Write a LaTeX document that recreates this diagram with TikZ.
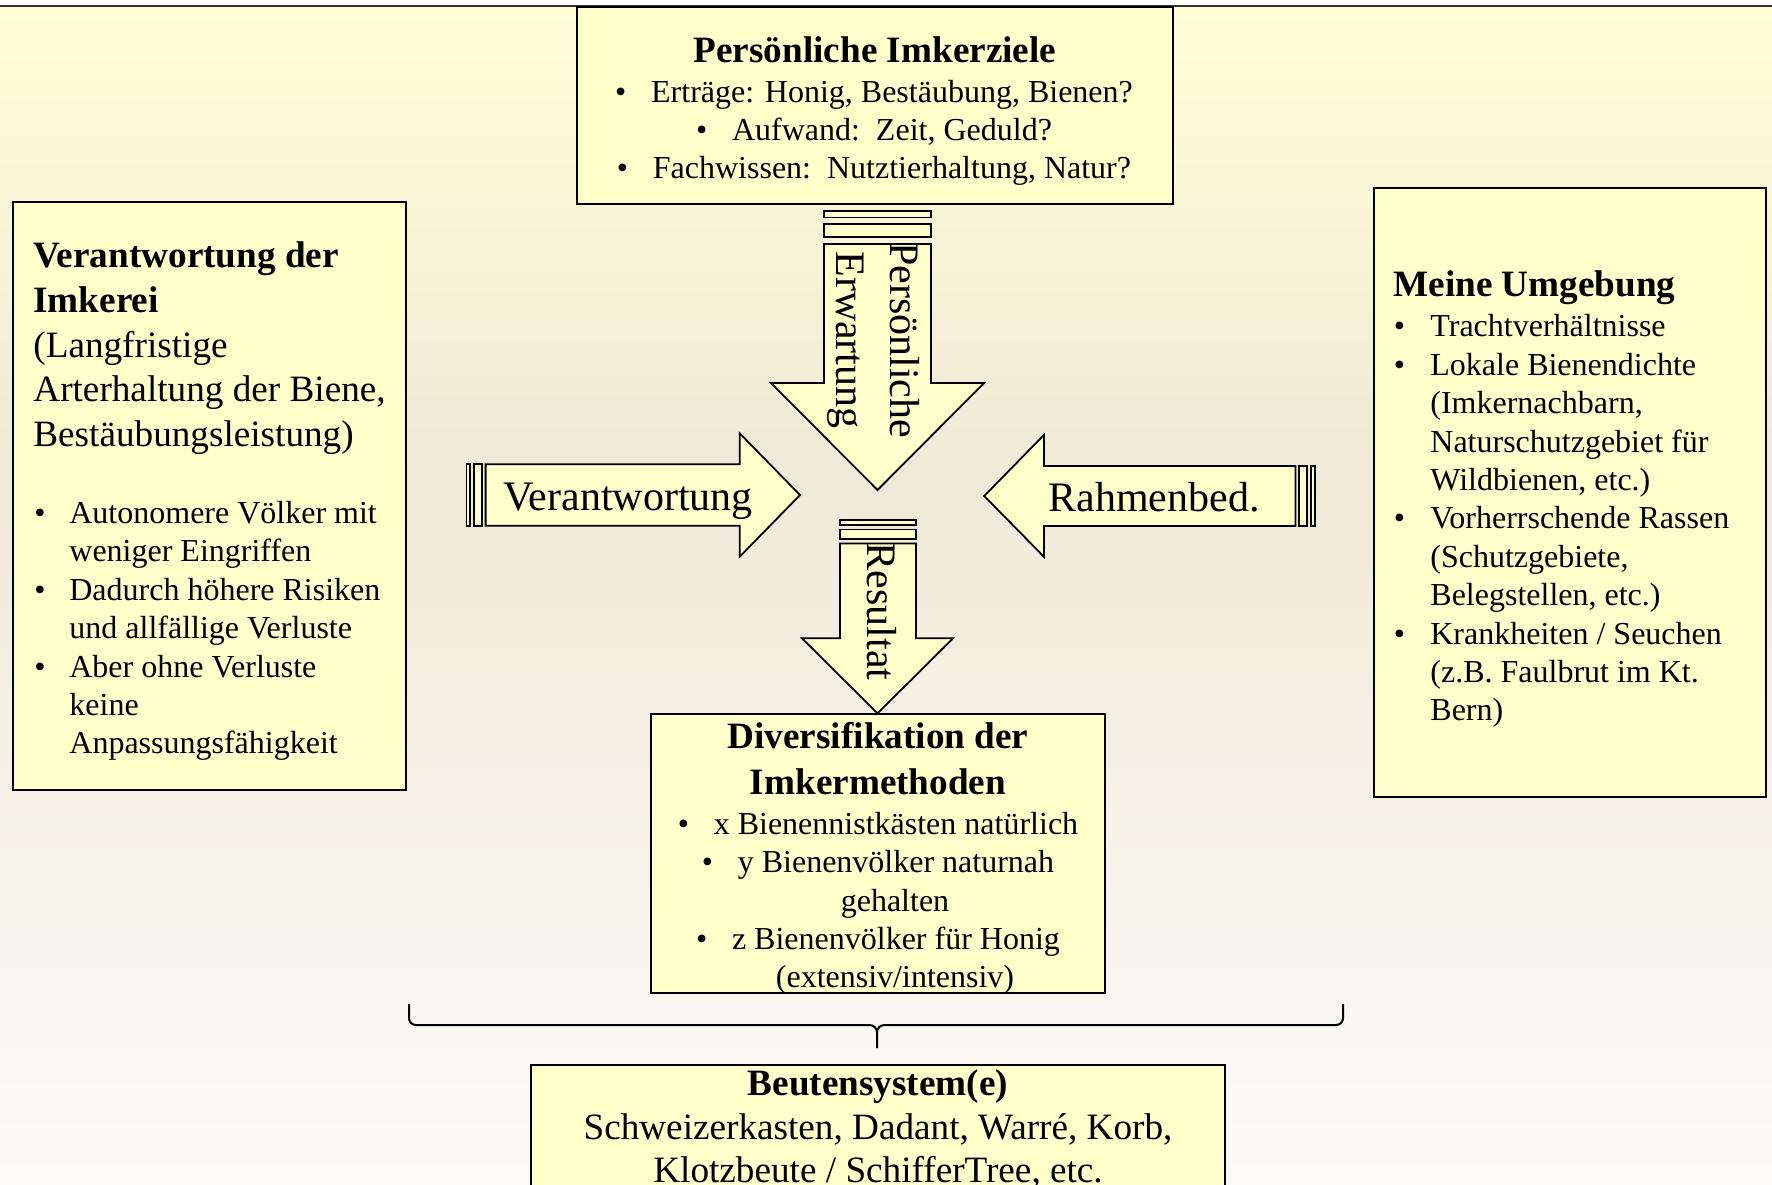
\documentclass[tikz,border=0pt]{standalone}
\usepackage{fontspec}
\setmainfont{Liberation Serif}
\definecolor{boxfill}{HTML}{FFFFCC}
\definecolor{bgtop}{HTML}{FFFFD6}
\definecolor{bgmid}{HTML}{EFE9D7}
\definecolor{bgbot}{HTML}{FCFBF9}
\newcommand\bulw[1]{\llap{\makebox[#1][l]{\textbullet}}}
\newcommand\bulc{\makebox[18pt][l]{\textbullet}}
\begin{document}
\begin{tikzpicture}[x=0.5pt,y=-0.5pt,
  box/.style={draw=black, line width=1pt, fill=boxfill, inner sep=0, outer sep=0},
  arr/.style={draw=black, line width=0.9pt, fill=boxfill, line join=miter},
  body/.style={inner sep=0, font=\fontsize{16}{19.2}\selectfont},
  bodyL/.style={body, anchor=base west},
  bodyC/.style={body, anchor=base},
  head/.style={inner sep=0, font=\fontsize{18.6}{22.3}\selectfont\bfseries},
  big/.style={inner sep=0, font=\fontsize{18.6}{22.3}\selectfont},
  lab/.style={inner sep=0, font=\fontsize{21}{25}\selectfont},
  brace/.style={draw=black, line width=1pt},
]
\useasboundingbox (0,0) rectangle (1772,1184);
\clip (0,0) rectangle (1772,1184);
\fill[white] (0,0) rectangle (1772,1184);
\shade[top color=bgtop, bottom color=bgmid] (0,6) rectangle (1772,470);
\shade[top color=bgmid, bottom color=bgbot] (0,470) rectangle (1772,1184);
\draw[line width=1pt, black!80] (0,6) -- (1772,6);

% boxes
\node[box, minimum width=298pt, minimum height=98.5pt] (ziele) at (875,105.5) {};
\node[box, minimum width=196.75pt, minimum height=294pt] (verant) at (209.25,496) {};
\node[box, minimum width=196pt, minimum height=304.7pt] (umgeb) at (1570,492.3) {};
\node[box, minimum width=227pt, minimum height=139.5pt] (divers) at (878,853.5) {};
\node[box, minimum width=347pt, minimum height=92.5pt] (beuten) at (878,1157.5) {};

% top arrow (down)
\draw[arr] (824,244) -- (931,244) -- (931,383) -- (984,383) -- (877.5,490) -- (771,383) -- (824,383) -- cycle;
\draw[arr] (824,210.7) rectangle (931,217.4);
\draw[arr] (824,224) rectangle (931,237.3);
% bottom arrow (down)
\draw[arr] (840,543.5) -- (916,543.5) -- (916,638.3) -- (953,638.3) -- (877.5,713.3) -- (802,638.3) -- (840,638.3) -- cycle;
\draw[arr] (840,520) rectangle (916,524.7);
\draw[arr] (840,529.4) rectangle (916,538.8);
% left arrow (pointing right)
\draw[arr] (485.6,464.3) -- (739.7,464.3) -- (739.7,433.3) -- (800,495) -- (739.7,556.7) -- (739.7,525.7) -- (485.6,525.7) -- cycle;
\draw[arr] (466.4,464.3) rectangle (470.25,525.7);
\draw[arr] (474.1,464.3) rectangle (481.8,525.7);
% right arrow (pointing left)
\draw[arr] (1295.4,466) -- (1043.9,466) -- (1043.9,435) -- (984.2,496) -- (1043.9,556.7) -- (1043.9,526) -- (1295.4,526) -- cycle;
\draw[arr] (1299.2,466) rectangle (1306.9,526);
\draw[arr] (1310.8,466) rectangle (1314.6,526);

% arrow labels
\node[lab, anchor=base] (lverant) at (628,510) {Verantwortung};
\node[lab, anchor=base] (lrahmen) at (1154,511.7) {Rahmenbed.};
\node[lab, anchor=base, rotate=-90] (lpers) at (890,340) {Persönliche};
\node[lab, anchor=base, rotate=-90] (lerw) at (836,340) {Erwartung};
\node[lab, anchor=base, rotate=-90] (lres) at (867,611.5) {Resultat};

% top box text
\node[head, anchor=base] (t0) at (875,62) {Persönliche Imkerziele};
\node[bodyC] (t1) at (874,102) {\bulc Erträge: Honig, Bestäubung, Bienen?};
\node[bodyC] (t2) at (874,140.5) {\bulc Aufwand:\ \ Zeit, Geduld?};
\node[bodyC] (t3) at (874,178.5) {\bulc Fachwissen:\ \ Nutztierhaltung, Natur?};

% left box text
\node[head, anchor=base west] (v0) at (33,267) {Verantwortung der};
\node[head, anchor=base west] (v1) at (33,312) {Imkerei};
\node[big, anchor=base west] (v2) at (33,357) {(Langfristige};
\node[big, anchor=base west] (v3) at (33,401.5) {Arterhaltung der Biene,};
\node[big, anchor=base west] (v4) at (33,446) {Bestäubungsleistung)};
\node[bodyL] (v5) at (69,523) {\bulw{17.5pt}Autonomere Völker mit};
\node[bodyL] (v6) at (69,561.5) {weniger Eingriffen};
\node[bodyL] (v7) at (69,600) {\bulw{17.5pt}Dadurch höhere Risiken};
\node[bodyL] (v8) at (69,638) {und allfällige Verluste};
\node[bodyL] (v9) at (69,677) {\bulw{17.5pt}Aber ohne Verluste};
\node[bodyL] (v10) at (69,715) {keine};
\node[bodyL] (v11) at (69,753) {Anpassungsfähigkeit};

% right box text
\node[head, anchor=base west] (u0) at (1393,296) {Meine Umgebung};
\node[bodyL] (u1) at (1430,336.5) {\bulw{18.3pt}Trachtverhältnisse};
\node[bodyL] (u2) at (1430,375) {\bulw{18.3pt}Lokale Bienendichte};
\node[bodyL] (u3) at (1430,413) {(Imkernachbarn,};
\node[bodyL] (u4) at (1430,452) {Naturschutzgebiet für};
\node[bodyL] (u5) at (1430,490) {Wildbienen, etc.)};
\node[bodyL] (u6) at (1430,528.5) {\bulw{18.3pt}Vorherrschende Rassen};
\node[bodyL] (u7) at (1430,567) {(Schutzgebiete,};
\node[bodyL] (u8) at (1430,605.5) {Belegstellen, etc.)};
\node[bodyL] (u9) at (1430,644) {\bulw{18.3pt}Krankheiten / Seuchen};
\node[bodyL] (u10) at (1430,682) {(z.B. Faulbrut im Kt.};
\node[bodyL] (u11) at (1430,720.5) {Bern)};

% middle box text
\node[head, anchor=base] (d0) at (878,748.5) {Diversifikation der};
\node[head, anchor=base] (d1) at (878,794) {Imkermethoden};
\node[bodyC] (d2) at (878,834) {\bulc x Bienennistkästen natürlich};
\node[bodyC] (d3) at (878,872.5) {\bulc y Bienenvölker naturnah};
\node[bodyC] (d4) at (895,911) {gehalten};
\node[bodyC] (d5) at (878,949.5) {\bulc z Bienenvölker für Honig};
\node[bodyC] (d6) at (895,987.5) {(extensiv/intensiv)};

% brace
\coordinate (brL) at (409,1004);
\coordinate (brR) at (1343,1004);
\coordinate (brC) at (877,1033);
\coordinate (brM) at (877,1048);
\draw[brace] (brL) -- (409,1018) .. controls (409,1022) and (412,1025) .. (416,1025) -- (869,1025) .. controls (874,1025) and (877,1028) .. (brC) -- (brM);
\draw[brace] (brR) -- (1343,1018) .. controls (1343,1022) and (1340,1025) .. (1336,1025) -- (885,1025) .. controls (880,1025) and (877,1028) .. (brC);

% bottom box text
\node[head, anchor=base] (b0) at (878,1095) {Beutensystem(e)};
\node[big, anchor=base] (b1) at (878,1139) {Schweizerkasten, Dadant, Warré, Korb,};
\node[big, anchor=base] (b2) at (878,1182) {Klotzbeute / SchifferTree, etc.};
\end{tikzpicture}
\end{document}
